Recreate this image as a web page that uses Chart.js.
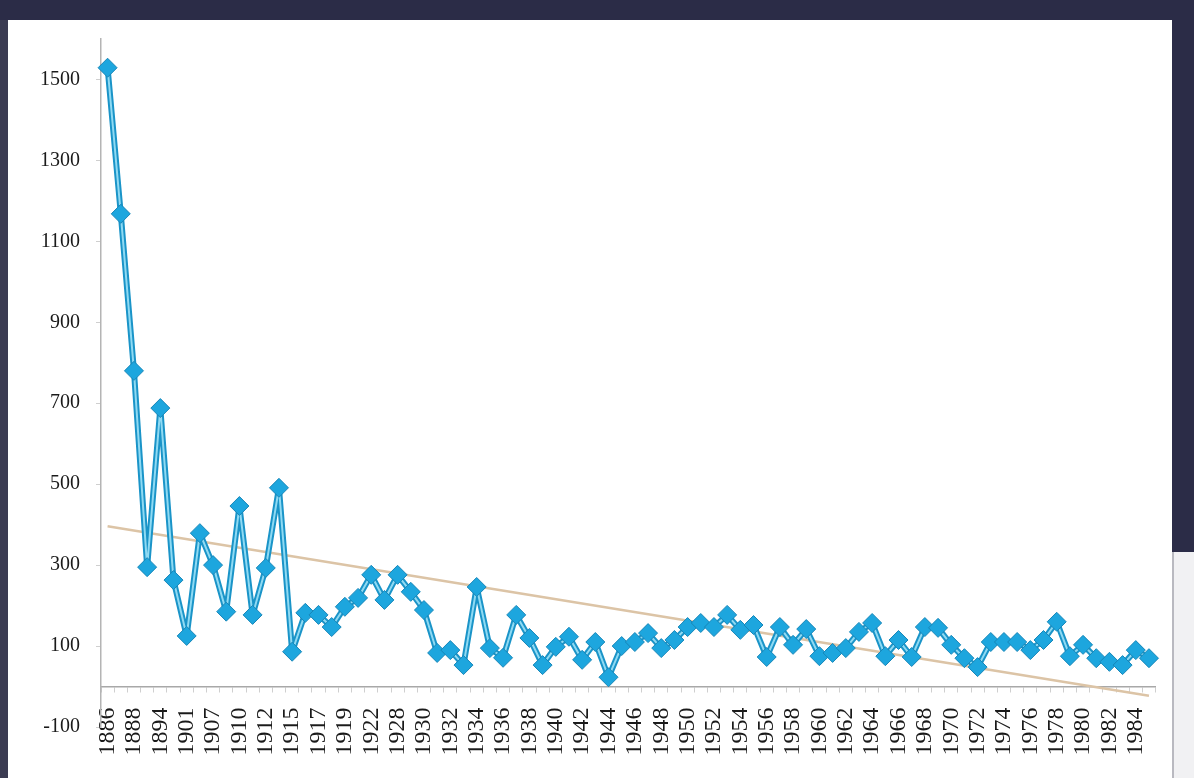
<!DOCTYPE html>
<html>
<head>
<meta charset="utf-8">
<script src="https://cdn.jsdelivr.net/npm/chart.js@4.4.1/dist/chart.umd.min.js"></script>
<style>
  html, body { margin: 0; padding: 0; width: 1194px; height: 778px; overflow: hidden; background: #2b2c47; }
  #frameLeft { position: absolute; left: 0; top: 20px; width: 8px; height: 758px; background: #3b3c52; }
  #panel { position: absolute; left: 8px; top: 20px; width: 1164px; height: 758px; background: #ffffff; }
  #rightLow { position: absolute; left: 1172px; top: 552px; width: 22px; height: 226px; background: #f1f1f3; border-left: 2px solid #b9b9c0; }
  #wrap { position: absolute; left: 0; top: 0; width: 1194px; height: 778px; }
</style>
</head>
<body>
<div id="frameLeft"></div>
<div id="panel"></div>
<div id="rightLow"></div>
<div id="wrap"><canvas id="idCanv_floods" width="1194" height="778"></canvas></div>
<script>
// years on the category axis (only every second one is printed)
const years = [
  "1886", "1887", "1888", "1891", "1894", "1898", "1901", "1904", "1907", "1909",
  "1910", "1911", "1912", "1914", "1915", "1916", "1917", "1918", "1919", "1921",
  "1922", "1925", "1928", "1929", "1930", "1931", "1932", "1933", "1934", "1935",
  "1936", "1937", "1938", "1939", "1940", "1941", "1942", "1943", "1944", "1945",
  "1946", "1947", "1948", "1949", "1950", "1951", "1952", "1953", "1954", "1955",
  "1956", "1957", "1958", "1959", "1960", "1961", "1962", "1963", "1964", "1965",
  "1966", "1967", "1968", "1969", "1970", "1971", "1972", "1973", "1974", "1975",
  "1976", "1977", "1978", "1979", "1980", "1981", "1982", "1983", "1984", "1985",
];

const values = [
  1529, 1168, 780, 295, 688, 263, 125, 379, 300, 185,
  446, 177, 293, 491, 86, 182, 177, 147, 197, 219,
  276, 214, 276, 234, 189, 83, 90, 53, 246, 95,
  71, 177, 120, 53, 98, 123, 66, 110, 23, 100,
  110, 132, 95, 115, 147, 157, 147, 177, 140, 152,
  73, 147, 103, 142, 75, 83, 95, 135, 157, 75,
  115, 73, 147, 145, 103, 70, 48, 110, 110, 110,
  90, 115, 160, 75, 103, 70, 61, 53, 90, 70,
];

// linear trendline, ends
const trendStart = 396;
const trendEnd = -23;

const yTicks = [-100, 100, 300, 500, 700, 900, 1100, 1300, 1500];

const trendData = years.map((y, i) => (i === 0 ? trendStart : i === years.length - 1 ? trendEnd : null));

const floodChart = {
  config: {
    type: "line",
    data: {
      labels: years,
      datasets: [
        {
          // trend
          data: trendData,
          spanGaps: true,
          borderColor: "#dcc4a6",
          borderWidth: 2.5,
          pointRadius: 0,
          order: 3,
        },
        {
          // dark outer edge of the series line
          data: values,
          borderColor: "#1a94c8",
          borderWidth: 6,
          borderJoinStyle: "round",
          pointRadius: 0,
          tension: 0,
          order: 2,
        },
        {
          data: values,
          borderColor: "#8fdaf3",
          borderWidth: 2,
          borderJoinStyle: "round",
          tension: 0,
          pointStyle: "rectRot",
          pointRadius: 9.5,
          pointBackgroundColor: "#1da6de",
          pointBorderColor: "#1786b8",
          pointBorderWidth: 1,
          order: 1,
        },
      ],
    },
    options: {
      responsive: false,
      animation: false,
      events: [],
      layout: {
        padding: { left: 0, top: 39, right: 37, bottom: 51 },
      },
      plugins: {
        legend: { display: false },
        tooltip: { enabled: false },
      },
      scales: {
        x: {
          type: "category",
          offset: true,
          position: { y: 0 },
          border: { display: true, color: "#a8a8a8", width: 1.5 },
          grid: { offset: true, drawOnChartArea: false, drawTicks: true, tickLength: 5, color: "#cfcfcf" },
          ticks: {
            autoSkip: false,
            maxRotation: 90,
            minRotation: 90,
            padding: 16,
            color: "#1a1a1a",
            font: { family: "Liberation Serif", size: 24 },
            callback: (val, i) => (i % 2 === 0 ? years[i] : ""),
          },
        },
        y: {
          min: -100,
          max: 1600,
          afterBuildTicks: (axis) => {
            axis.ticks = yTicks.map((v) => ({ value: v }));
          },
          afterFit: (axis) => {
            axis.width = 101;
          },
          border: { display: true, color: "#b4b4b4", width: 1.5 },
          grid: { drawOnChartArea: false, drawTicks: true, tickLength: 5, color: "#cfcfcf" },
          ticks: {
            padding: 16,
            color: "#1a1a1a",
            font: { family: "Liberation Serif", size: 20 },
            callback: (val) => String(val),
          },
        },
      },
    },
  },
  canvas: null,
};

floodChart.canvas = new Chart(document.getElementById("idCanv_floods"), floodChart.config);
</script>
</body>
</html>
